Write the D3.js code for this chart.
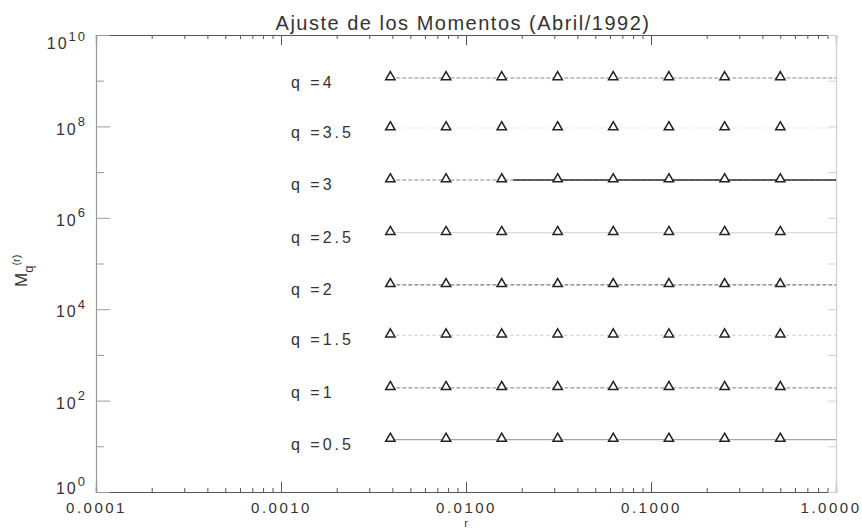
<!DOCTYPE html>
<html>
<head>
<meta charset="utf-8">
<script src="https://cdn.jsdelivr.net/npm/d3@7"></script>
<style>
  body { margin: 0; background: #fff; }
  svg text { font-family: "Liberation Sans", Arial, sans-serif; fill: #333; }
</style>
</head>
<body>
<svg id="chart" width="862" height="531"></svg>
<script>
// r values (scales 1/256 ... 1/2)
const rValues = [0.0039, 0.0078, 0.0156, 0.0313, 0.0625, 0.125, 0.25, 0.5];
const qLabels = ["q =4", "q =3.5", "q =3", "q =2.5", "q =2", "q =1.5", "q =1", "q =0.5"];

// moments, one array per q
const mq40 = [1.15e9, 1.15e9, 1.15e9, 1.15e9, 1.15e9, 1.15e9, 1.15e9, 1.15e9];
const mq35 = [9.2e7, 9.2e7, 9.2e7, 9.2e7, 9.2e7, 9.2e7, 9.2e7, 9.2e7];
const mq30 = [6.7e6, 6.7e6, 6.7e6, 6.7e6, 6.7e6, 6.7e6, 6.7e6, 6.7e6];
const mq25 = [4.7e5, 4.7e5, 4.7e5, 4.7e5, 4.7e5, 4.7e5, 4.7e5, 4.7e5];
const mq20 = [3.4e4, 3.4e4, 3.4e4, 3.4e4, 3.4e4, 3.4e4, 3.4e4, 3.4e4];
const mq15 = [2.7e3, 2.7e3, 2.7e3, 2.7e3, 2.7e3, 2.7e3, 2.7e3, 2.7e3];
const mq10 = [190, 190, 190, 190, 190, 190, 190, 190];
const mq05 = [14, 14, 14, 14, 14, 14, 14, 14];
const series = [mq40, mq35, mq30, mq25, mq20, mq15, mq10, mq05];

const xTickValues = [0.0001, 0.001, 0.01, 0.1, 1];
const yExponents = [0, 1, 2, 3, 4, 5, 6, 7, 8, 9, 10];

// line look for each series
const lineColor = ["#8a8a8a", "#e8e8e8", "#8a8a8a", "#cfcfcf", "#7a7a7a", "#c4c4c4", "#9a9a9a", "#a8a8a8"];
const lineDash = ["4,2", "4,2", "4,2", null, "4,2", "3,3", "4,2", null];

var svg = d3.select("#chart");
var x = d3.scaleLog().domain([1e-4, 1]).range([96, 836]);
var y = d3.scaleLog().domain([1, 1e10]).range([492, 35]);

var majorX = xTickValues;
var minorX = [];
for (let d = 0; d < xTickValues.length - 1; d++)
    for (let k = 2; k <= 9; k++) minorX.push(xTickValues[d] * k);

function styleAxis(g, color) {
    g.select(".domain").attr("stroke", color).attr("stroke-width", 1.2);
    g.selectAll(".tick line").attr("stroke", color);
}

// bottom axis
var bottomMinor = svg.append("g").attr("transform", "translate(0,492)")
    .call(d3.axisBottom(x).tickValues(minorX).tickSize(-4).tickFormat(""));
styleAxis(bottomMinor, "#555");
var bottom = svg.append("g").attr("transform", "translate(0,492)")
    .call(d3.axisBottom(x).tickValues(majorX).tickSize(-10).tickPadding(10).tickFormat(d3.format(".4f")));
styleAxis(bottom, "#555");
bottom.selectAll("text").attr("font-size", 15).style("letter-spacing", "2.5px").attr("fill", "#444");
// the last label sits on the window edge: keep it whole
bottom.selectAll("text").filter(d => d === 1).attr("text-anchor", "end").attr("x", 25);

// top axis (mirror, no labels)
var topMinor = svg.append("g").attr("transform", "translate(0,35)")
    .call(d3.axisTop(x).tickValues(minorX).tickSize(-4).tickFormat(""));
styleAxis(topMinor, "#555");
var topMajor = svg.append("g").attr("transform", "translate(0,35)")
    .call(d3.axisTop(x).tickValues(majorX).tickSize(-10).tickFormat(""));
styleAxis(topMajor, "#555");

// left axis
var yVals = yExponents.map(e => Math.pow(10, e));
var left = svg.append("g").attr("transform", "translate(96,0)")
    .call(d3.axisLeft(y).tickValues(yVals).tickSize(-14).tickPadding(9).tickFormat(""));
styleAxis(left, "#999");
left.selectAll(".tick line").attr("x2", d => Math.round(Math.log10(d)) % 2 === 0 ? 14 : 8);
left.selectAll(".tick text")
    .filter(d => Math.round(Math.log10(d)) % 2 === 0)
    .each(function (d) {
        let e = Math.round(Math.log10(d));
        let shift = e === 0 ? -4 : e === 10 ? 8 : 2;
        let t = d3.select(this).attr("font-size", 16).attr("fill", "#444")
            .attr("y", shift).attr("dy", "0.35em").style("letter-spacing", "2px");
        t.append("tspan").text("10");
        t.append("tspan").attr("font-size", 13).attr("dy", "-0.65em").text(e);
    });

// right axis
var right = svg.append("g").attr("transform", "translate(836,0)")
    .call(d3.axisRight(y).tickValues(yVals).tickSize(-8).tickFormat(""));
styleAxis(right, "#cfcfcf");

// lines through the points, carried to the right edge
var line = d3.line().x(d => x(d[0])).y(d => y(d[1]));
series.forEach((vals, i) => {
    let pts = rValues.map((r, j) => [r, vals[j]]);
    pts.push([x.domain()[1], vals[vals.length - 1]]);
    svg.append("path")
        .datum(pts)
        .attr("d", line)
        .attr("fill", "none")
        .attr("stroke", lineColor[i])
        .attr("stroke-width", 1.1)
        .attr("stroke-dasharray", lineDash[i]);
});

// solid fit for q = 3
svg.append("path")
    .datum([[0.018, mq30[2]], [x.domain()[1], mq30[7]]])
    .attr("d", line)
    .attr("fill", "none")
    .attr("stroke", "#333")
    .attr("stroke-width", 1.6);

// triangles
var tri = d3.symbol().type(d3.symbolTriangle).size(38);
series.forEach((vals, i) => {
    svg.append("g").selectAll("path")
        .data(rValues.map((r, j) => [r, vals[j]]))
        .join("path")
        .attr("d", tri)
        .attr("transform", d => `translate(${x(d[0])},${y(d[1]) - 1})`)
        .attr("fill", "#fff")
        .attr("stroke", "#222")
        .attr("stroke-width", 1.5);
});

// q labels
svg.append("g").selectAll("text")
    .data(qLabels)
    .join("text")
    .attr("x", 291)
    .attr("y", (d, i) => y(series[i][0]) + 10)
    .attr("font-size", 16)
    .style("letter-spacing", "3px")
    .attr("fill", "#444")
    .text(d => d);

// title
svg.append("text")
    .attr("x", 463).attr("y", 30)
    .attr("text-anchor", "middle")
    .attr("font-size", 20)
    .style("letter-spacing", "1.5px")
    .attr("fill", "#333")
    .text("Ajuste de los Momentos (Abril/1992)");

// axis titles
var yl = svg.append("text")
    .attr("transform", "translate(27,287) rotate(-90)")
    .attr("font-size", 17)
    .attr("fill", "#444");
yl.append("tspan").text("M");
yl.append("tspan").attr("font-size", 13).attr("dy", 6).text("q");
yl.append("tspan").attr("font-size", 11).attr("dy", -13).text("(r)");

svg.append("text")
    .attr("x", 466).attr("y", 527)
    .attr("text-anchor", "middle")
    .attr("font-size", 11)
    .attr("fill", "#444")
    .text("r");
</script>
</body>
</html>
